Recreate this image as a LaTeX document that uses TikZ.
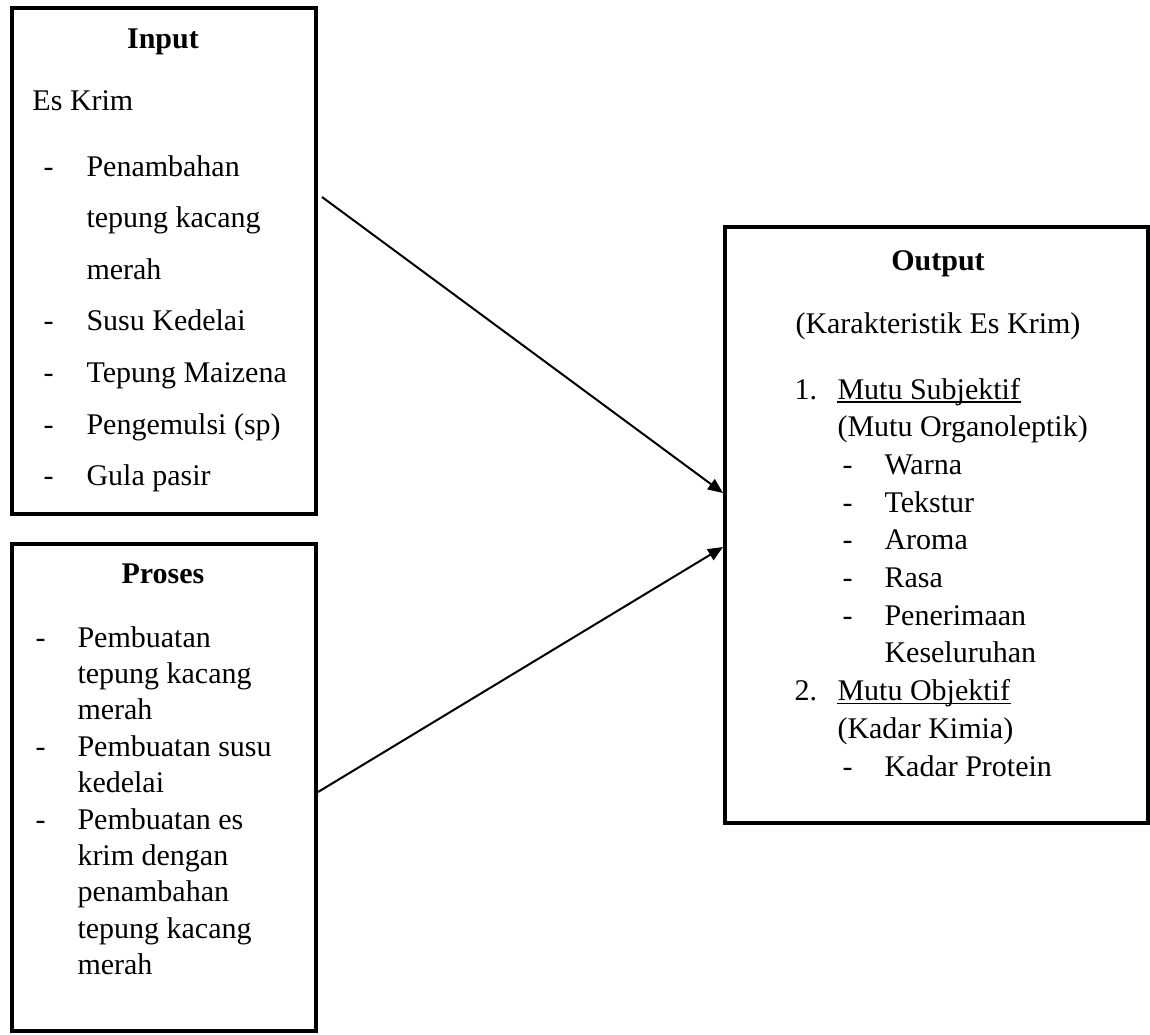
\documentclass[tikz,border=0pt]{standalone}
\usepackage{fontspec}
\setmainfont{Liberation Serif}
\usetikzlibrary{arrows.meta,calc}
\tikzset{
frame/.style={draw,line width=1.6pt},
txt/.style={anchor=base west,inner sep=0pt},
head/.style={anchor=base,inner sep=0pt,font=\fontsize{12pt}{14pt}\selectfont\bfseries},
arr/.style={-{Triangle[length=6pt,width=5pt]},line width=0.8pt},
uline/.style={line width=0.5pt},
%tip/.style={fill=black}
}
\begin{document}
\begin{tikzpicture}[x=0.4pt,y=-0.4pt,font=\fontsize{12pt}{14pt}\selectfont]
    \useasboundingbox (0,0) rectangle (1150,1034);
    \draw[frame] (12,8) coordinate (in-nw) rectangle (316,514) coordinate (in-se);
    \draw[frame] (12,544) coordinate (pr-nw) rectangle (316,1031) coordinate (pr-se);
    \draw[frame] (725,227) coordinate (out-nw) rectangle (1148,823) coordinate (out-se);

    % input
    \node[head] (in-title) at (163,48) {Input};
    \node[txt] (in-es) at (32,110) {Es Krim};
    \foreach \t [count=\i from 0] in {Penambahan, tepung kacang, merah, Susu Kedelai, Tepung Maizena, Pengemulsi (sp), Gula pasir}
    {
        \node[txt] (in-\i) at (86,{176+51.6*\i}) {\t};
    }
    \foreach \i in {0, 3, 4, 5, 6}
        \node[txt] (in-d\i) at (43,{176+51.6*\i}) {-};

    % proses
    \node[head] (pr-title) at (163,583) {Proses};
    \foreach \t [count=\i from 0] in {Pembuatan, tepung kacang, merah, Pembuatan susu, kedelai, Pembuatan es, krim dengan, penambahan, tepung kacang, merah}
    {
        \node[txt] (pr-\i) at (77,{647+36.4*\i}) {\t};
    }
    \foreach \i in {0, 3, 5}
        \node[txt] (pr-d\i) at (35,{647+36.4*\i}) {-};

    % output
    \node[head] (out-title) at (938,270) {Output};
    \node[txt] (out-sub) at (795,333) {(Karakteristik Es Krim)};
    \foreach \t/\x [count=\i from 0] in {Mutu Subjektif/837, (Mutu Organoleptik)/837, Warna/884, Tekstur/884, Aroma/884, Rasa/884, Penerimaan/884, Keseluruhan/884, Mutu Objektif/837, (Kadar Kimia)/837, Kadar Protein/884}
    {
        \node[txt] (out-\i) at (\x,{399+37.7*\i}) {\t};
    }
    \foreach \i in {2, 3, 4, 5, 6, 10}
        \node[txt] (out-d\i) at (842,{399+37.7*\i}) {-};
    \node[txt] (out-n1) at (794,399) {1.};
    \node[txt] (out-n2) at (794,{399+37.7*8}) {2.};
    \foreach \i in {0, 8}
        \draw[uline] ([yshift=-1.2pt]out-\i.base west) -- ([yshift=-1.2pt]out-\i.base east);

    % arrows
    \coordinate (in-a) at (322,197);
    \coordinate (pr-a) at (318,792);
    \coordinate (out-a) at (723,493);
    \coordinate (out-b) at (723,547);
    \draw[arr] (in-a) -- (out-a);
    \draw[arr] (pr-a) -- (out-b);

\end{tikzpicture}
\end{document}
